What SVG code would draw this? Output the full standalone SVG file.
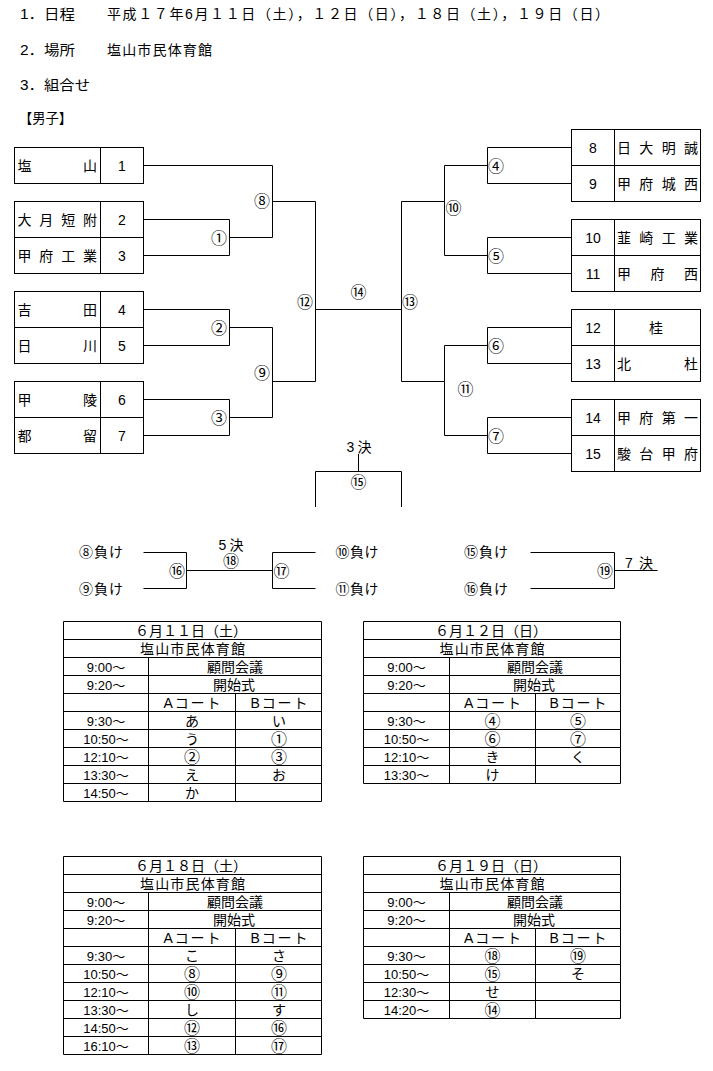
<svg xmlns="http://www.w3.org/2000/svg" width="713" height="1071" viewBox="0 0 713 1071">
<style>
text{font-family:"Liberation Sans","Noto Sans CJK JP",sans-serif;font-size:14px;fill:#000}
.m{text-anchor:middle}
.cn{font-size:16px;text-anchor:middle}
.tm{font-size:13px;text-anchor:middle}
.ln{fill:none;stroke:#000;stroke-width:1}
.bx{fill:#fff;stroke:#000;stroke-width:1}
</style>
<rect width="713" height="1071" fill="#fff"/>
<g id="header">
<text x="20" y="18.5" textLength="55" lengthAdjust="spacingAndGlyphs">1．日程</text>
<text x="107" y="18.5" textLength="502" lengthAdjust="spacing">平成１７年6月１１日（土），１２日（日），１８日（土），１９日（日）</text>
<text x="20" y="55" textLength="55" lengthAdjust="spacingAndGlyphs">2．場所</text>
<text x="107" y="55" textLength="105" lengthAdjust="spacing">塩山市民体育館</text>
<text x="20" y="90" textLength="70" lengthAdjust="spacingAndGlyphs">3．組合せ</text>
<text x="19" y="123" textLength="53" lengthAdjust="spacingAndGlyphs">【男子】</text>
</g>
<g id="connectors">
<path class="ln" d="M143.5 165.5H272.5V237.5H229.5"/>
<path class="ln" d="M143.5 219.5H229.5V255.5H143.5"/>
<path class="ln" d="M272.5 201.5H315.5V381.5H272.5"/>
<path class="ln" d="M143.5 309.5H229.5V345.5H143.5"/>
<path class="ln" d="M229.5 327.5H272.5V417.5H229.5"/>
<path class="ln" d="M143.5 399.5H229.5V435.5H143.5"/>
<path class="ln" d="M315.5 309.5H401.5"/>
<path class="ln" d="M571.5 147.5H487.5V183.5H571.5"/>
<path class="ln" d="M487.5 165.5H444.5V255.5H487.5"/>
<path class="ln" d="M571.5 237.5H487.5V273.5H571.5"/>
<path class="ln" d="M444.5 201.5H401.5V381.5H444.5"/>
<path class="ln" d="M571.5 327.5H487.5V363.5H571.5"/>
<path class="ln" d="M487.5 345.5H444.5V435.5H487.5"/>
<path class="ln" d="M571.5 417.5H487.5V453.5H571.5"/>
<path class="ln" d="M358.5 454V471.5M315.5 507V471.5H401.5V507"/>
<path class="ln" d="M143.5 552.5H186.5V588.5H143.5M186.5 570.5H272.5M315.5 552.5H272.5V588.5H315.5"/>
<path class="ln" d="M530.5 552.5H614.5V588.5H530.5M614.5 570.5H657.5"/>
</g>
<g id="team-1">
<rect class="bx" x="14.5" y="147.5" width="129" height="36"/>
<path class="ln" d="M100.5 147.5V183.5"/>
<text x="17.5" y="170.5" textLength="79.5" lengthAdjust="spacing">塩山</text>
<text class="m" x="122" y="170.5">1</text>
</g>
<g id="team-2-3">
<rect class="bx" x="14.5" y="201.5" width="129" height="72"/>
<path class="ln" d="M100.5 201.5V273.5M14.5 237.5H143.5"/>
<text x="17.5" y="224.5" textLength="79.5" lengthAdjust="spacing">大月短附</text>
<text x="17.5" y="260.5" textLength="79.5" lengthAdjust="spacing">甲府工業</text>
<text class="m" x="122" y="224.5">2</text>
<text class="m" x="122" y="260.5">3</text>
</g>
<g id="team-4-5">
<rect class="bx" x="14.5" y="291.5" width="129" height="72"/>
<path class="ln" d="M100.5 291.5V363.5M14.5 327.5H143.5"/>
<text x="17.5" y="314.5" textLength="79.5" lengthAdjust="spacing">吉田</text>
<text x="17.5" y="350.5" textLength="79.5" lengthAdjust="spacing">日川</text>
<text class="m" x="122" y="314.5">4</text>
<text class="m" x="122" y="350.5">5</text>
</g>
<g id="team-6-7">
<rect class="bx" x="14.5" y="381.5" width="129" height="72"/>
<path class="ln" d="M100.5 381.5V453.5M14.5 417.5H143.5"/>
<text x="17.5" y="404.5" textLength="79.5" lengthAdjust="spacing">甲陵</text>
<text x="17.5" y="440.5" textLength="79.5" lengthAdjust="spacing">都留</text>
<text class="m" x="122" y="404.5">6</text>
<text class="m" x="122" y="440.5">7</text>
</g>
<g id="team-8-9">
<rect class="bx" x="571.5" y="129.5" width="129" height="72"/>
<path class="ln" d="M614.5 129.5V201.5M571.5 165.5H700.5"/>
<text class="m" x="593" y="152.5">8</text>
<text class="m" x="593" y="188.5">9</text>
<text x="617" y="152.5" textLength="81" lengthAdjust="spacing">日大明誠</text>
<text x="617" y="188.5" textLength="81" lengthAdjust="spacing">甲府城西</text>
</g>
<g id="team-10-11">
<rect class="bx" x="571.5" y="219.5" width="129" height="72"/>
<path class="ln" d="M614.5 219.5V291.5M571.5 255.5H700.5"/>
<text class="m" x="593" y="242.5">10</text>
<text class="m" x="593" y="278.5">11</text>
<text x="617" y="242.5" textLength="81" lengthAdjust="spacing">韮崎工業</text>
<text x="617" y="278.5" textLength="81" lengthAdjust="spacing">甲府西</text>
</g>
<g id="team-12-13">
<rect class="bx" x="571.5" y="309.5" width="129" height="72"/>
<path class="ln" d="M614.5 309.5V381.5M571.5 345.5H700.5"/>
<text class="m" x="593" y="332.5">12</text>
<text class="m" x="593" y="368.5">13</text>
<text class="m" x="656" y="332.5">桂</text>
<text x="617" y="368.5" textLength="81" lengthAdjust="spacing">北杜</text>
</g>
<g id="team-14-15">
<rect class="bx" x="571.5" y="399.5" width="129" height="72"/>
<path class="ln" d="M614.5 399.5V471.5M571.5 435.5H700.5"/>
<text class="m" x="593" y="422.5">14</text>
<text class="m" x="593" y="458.5">15</text>
<text x="617" y="422.5" textLength="81" lengthAdjust="spacing">甲府第一</text>
<text x="617" y="458.5" textLength="81" lengthAdjust="spacing">駿台甲府</text>
</g>
<g id="match-labels">
<text class="cn" x="219" y="243.5">①</text>
<text class="cn" x="219" y="333.5">②</text>
<text class="cn" x="219" y="423.5">③</text>
<text class="cn" x="262" y="207">⑧</text>
<text class="cn" x="262" y="378.5">⑨</text>
<text class="cn" x="305" y="307.5">⑫</text>
<text class="cn" x="358.5" y="297.5">⑭</text>
<text class="cn" x="410" y="307.5">⑬</text>
<text class="cn" x="496" y="171.5">④</text>
<text class="cn" x="496" y="262">⑤</text>
<text class="cn" x="496" y="351.5">⑥</text>
<text class="cn" x="496" y="441.5">⑦</text>
<text class="cn" x="453.5" y="214">⑩</text>
<text class="cn" x="465.5" y="395">⑪</text>
<text class="m" x="359" y="452" textLength="25" lengthAdjust="spacing">3決</text>
<text class="cn" x="358.5" y="487.5">⑮</text>
</g>
<g id="placement-bracket">
<text x="79" y="557" textLength="44" lengthAdjust="spacing">⑧負け</text>
<text x="79" y="593.5" textLength="44" lengthAdjust="spacing">⑨負け</text>
<text x="335.5" y="557" textLength="43" lengthAdjust="spacing">⑩負け</text>
<text x="335.5" y="593.5" textLength="43" lengthAdjust="spacing">⑪負け</text>
<text x="464" y="557" textLength="44" lengthAdjust="spacing">⑮負け</text>
<text x="464" y="593.5" textLength="44" lengthAdjust="spacing">⑯負け</text>
<text class="cn" x="177" y="576.5">⑯</text>
<text class="m" x="231" y="550" textLength="25" lengthAdjust="spacing">5決</text>
<text class="cn" x="231" y="566.5">⑱</text>
<text class="cn" x="281.5" y="576.5">⑰</text>
<text class="cn" x="605" y="576.5">⑲</text>
<text x="625" y="567.5" textLength="28" lengthAdjust="spacing">7決</text>
</g>
<g id="table-0611">
<path class="ln" d="M63.5 621.5H321.5V801.5H63.5ZM63.5 639.5H321.5M63.5 657.5H321.5M63.5 675.5H321.5M63.5 693.5H321.5M63.5 711.5H321.5M63.5 729.5H321.5M63.5 747.5H321.5M63.5 765.5H321.5M63.5 783.5H321.5M148.5 657.5V801.5M235.5 693.5V801.5"/>
<text class="m" x="191" y="635.5" textLength="112" lengthAdjust="spacing">６月１１日（土）</text>
<text class="m" x="192.5" y="653.5" textLength="105" lengthAdjust="spacing">塩山市民体育館</text>
<text class="tm" x="106" y="671.5">9:00～</text><text class="m" x="235" y="671.5">顧問会議</text>
<text class="tm" x="106" y="689.5">9:20～</text><text class="m" x="234" y="689.5">開始式</text>
<text class="m" x="192" y="707.5" textLength="57" lengthAdjust="spacing">Aコート</text><text class="m" x="279" y="707.5" textLength="57" lengthAdjust="spacing">Bコート</text>
<text class="tm" x="106" y="725.5">9:30～</text><text class="m" x="192" y="725.5">あ</text><text class="m" x="279" y="725.5">い</text>
<text class="tm" x="106" y="743.5">10:50～</text><text class="m" x="192" y="743.5">う</text><text class="cn" x="279" y="744.5">①</text>
<text class="tm" x="106" y="761.5">12:10～</text><text class="cn" x="192" y="762.5">②</text><text class="cn" x="279" y="762.5">③</text>
<text class="tm" x="106" y="779.5">13:30～</text><text class="m" x="192" y="779.5">え</text><text class="m" x="279" y="779.5">お</text>
<text class="tm" x="106" y="797.5">14:50～</text><text class="m" x="192" y="797.5">か</text>
</g>
<g id="table-0612">
<path class="ln" d="M363.5 621.5H620.5V783.5H363.5ZM363.5 639.5H620.5M363.5 657.5H620.5M363.5 675.5H620.5M363.5 693.5H620.5M363.5 711.5H620.5M363.5 729.5H620.5M363.5 747.5H620.5M363.5 765.5H620.5M449.5 657.5V783.5M535.5 693.5V783.5"/>
<text class="m" x="491" y="635.5" textLength="112" lengthAdjust="spacing">６月１２日（日）</text>
<text class="m" x="492" y="653.5" textLength="105" lengthAdjust="spacing">塩山市民体育館</text>
<text class="tm" x="406.5" y="671.5">9:00～</text><text class="m" x="535" y="671.5">顧問会議</text>
<text class="tm" x="406.5" y="689.5">9:20～</text><text class="m" x="534" y="689.5">開始式</text>
<text class="m" x="492.5" y="707.5" textLength="57" lengthAdjust="spacing">Aコート</text><text class="m" x="578" y="707.5" textLength="57" lengthAdjust="spacing">Bコート</text>
<text class="tm" x="406.5" y="725.5">9:30～</text><text class="cn" x="492.5" y="726.5">④</text><text class="cn" x="578" y="726.5">⑤</text>
<text class="tm" x="406.5" y="743.5">10:50～</text><text class="cn" x="492.5" y="744.5">⑥</text><text class="cn" x="578" y="744.5">⑦</text>
<text class="tm" x="406.5" y="761.5">12:10～</text><text class="m" x="492.5" y="761.5">き</text><text class="m" x="578" y="761.5">く</text>
<text class="tm" x="406.5" y="779.5">13:30～</text><text class="m" x="492.5" y="779.5">け</text>
</g>
<g id="table-0618">
<path class="ln" d="M63.5 856.5H321.5V1054.5H63.5ZM63.5 874.5H321.5M63.5 892.5H321.5M63.5 910.5H321.5M63.5 928.5H321.5M63.5 946.5H321.5M63.5 964.5H321.5M63.5 982.5H321.5M63.5 1000.5H321.5M63.5 1018.5H321.5M63.5 1036.5H321.5M148.5 892.5V1054.5M235.5 928.5V1054.5"/>
<text class="m" x="191" y="870.5" textLength="112" lengthAdjust="spacing">６月１８日（土）</text>
<text class="m" x="192.5" y="888.5" textLength="105" lengthAdjust="spacing">塩山市民体育館</text>
<text class="tm" x="106" y="906.5">9:00～</text><text class="m" x="235" y="906.5">顧問会議</text>
<text class="tm" x="106" y="924.5">9:20～</text><text class="m" x="234" y="924.5">開始式</text>
<text class="m" x="192" y="942.5" textLength="57" lengthAdjust="spacing">Aコート</text><text class="m" x="279" y="942.5" textLength="57" lengthAdjust="spacing">Bコート</text>
<text class="tm" x="106" y="960.5">9:30～</text><text class="m" x="192" y="960.5">こ</text><text class="m" x="279" y="960.5">さ</text>
<text class="tm" x="106" y="978.5">10:50～</text><text class="cn" x="192" y="979.5">⑧</text><text class="cn" x="279" y="979.5">⑨</text>
<text class="tm" x="106" y="996.5">12:10～</text><text class="cn" x="192" y="997.5">⑩</text><text class="cn" x="279" y="997.5">⑪</text>
<text class="tm" x="106" y="1014.5">13:30～</text><text class="m" x="192" y="1014.5">し</text><text class="m" x="279" y="1014.5">す</text>
<text class="tm" x="106" y="1032.5">14:50～</text><text class="cn" x="192" y="1033.5">⑫</text><text class="cn" x="279" y="1033.5">⑯</text>
<text class="tm" x="106" y="1050.5">16:10～</text><text class="cn" x="192" y="1051.5">⑬</text><text class="cn" x="279" y="1051.5">⑰</text>
</g>
<g id="table-0619">
<path class="ln" d="M363.5 856.5H620.5V1018.5H363.5ZM363.5 874.5H620.5M363.5 892.5H620.5M363.5 910.5H620.5M363.5 928.5H620.5M363.5 946.5H620.5M363.5 964.5H620.5M363.5 982.5H620.5M363.5 1000.5H620.5M449.5 892.5V1018.5M535.5 928.5V1018.5"/>
<text class="m" x="491" y="870.5" textLength="112" lengthAdjust="spacing">６月１９日（日）</text>
<text class="m" x="492" y="888.5" textLength="105" lengthAdjust="spacing">塩山市民体育館</text>
<text class="tm" x="406.5" y="906.5">9:00～</text><text class="m" x="535" y="906.5">顧問会議</text>
<text class="tm" x="406.5" y="924.5">9:20～</text><text class="m" x="534" y="924.5">開始式</text>
<text class="m" x="492.5" y="942.5" textLength="57" lengthAdjust="spacing">Aコート</text><text class="m" x="578" y="942.5" textLength="57" lengthAdjust="spacing">Bコート</text>
<text class="tm" x="406.5" y="960.5">9:30～</text><text class="cn" x="492.5" y="961.5">⑱</text><text class="cn" x="578" y="961.5">⑲</text>
<text class="tm" x="406.5" y="978.5">10:50～</text><text class="cn" x="492.5" y="979.5">⑮</text><text class="m" x="578" y="978.5">そ</text>
<text class="tm" x="406.5" y="996.5">12:30～</text><text class="m" x="492.5" y="996.5">せ</text>
<text class="tm" x="406.5" y="1014.5">14:20～</text><text class="cn" x="492.5" y="1015.5">⑭</text>
</g>
</svg>
